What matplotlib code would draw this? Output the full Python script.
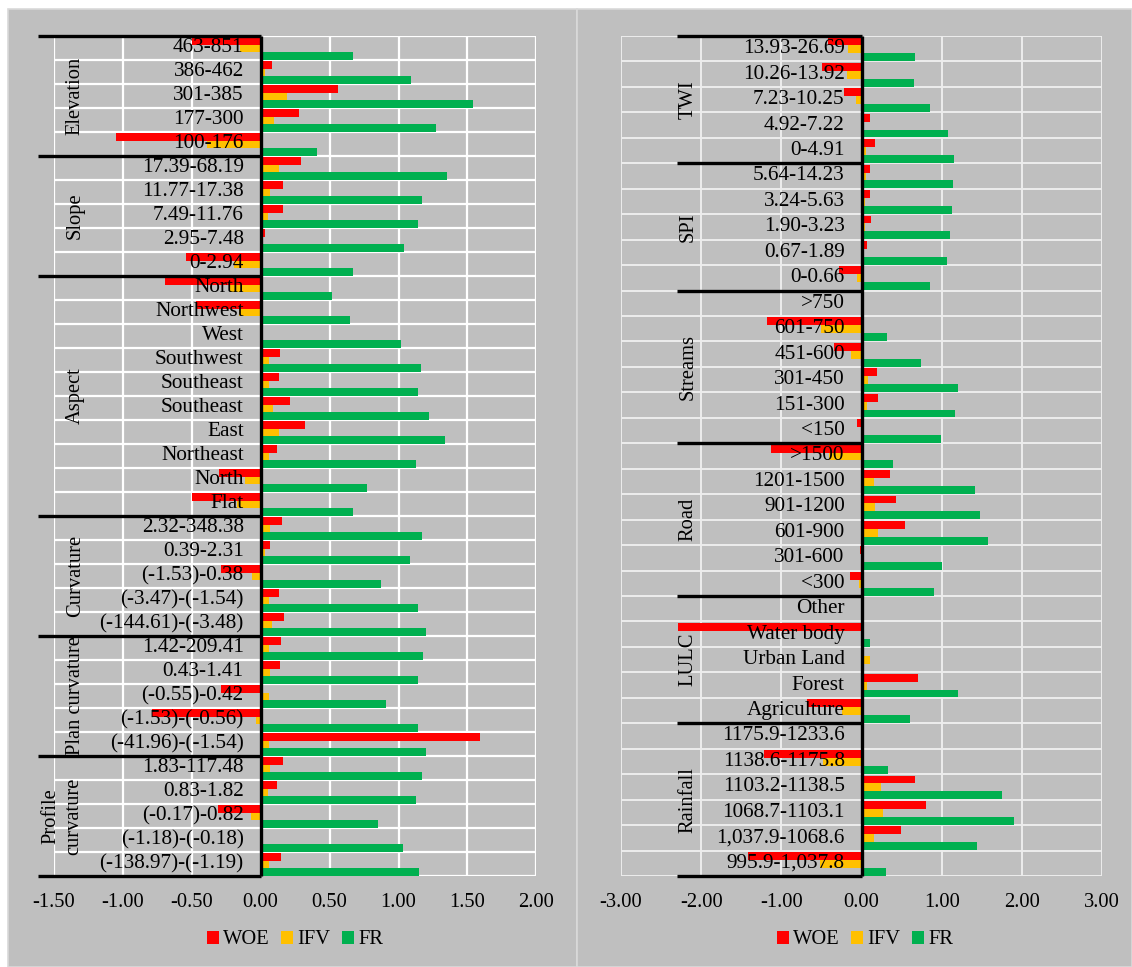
import matplotlib
matplotlib.use("Agg")
import matplotlib.pyplot as plt
from matplotlib.patches import Patch, Rectangle

plt.rcParams['font.family'] = ['Liberation Serif', 'DejaVu Serif']

# ---------------- left panel data ----------------
left_groups = ["Elevation", "Slope", "Aspect", "Curvature", "Plan curvature", "Profile\ncurvature"]
left_group_sizes = [5, 5, 10, 5, 5, 5]
left_classes = [
    "463-851", "386-462", "301-385", "177-300", "100-176",
    "17.39-68.19", "11.77-17.38", "7.49-11.76", "2.95-7.48", "0-2.94",
    "North", "Northwest", "West", "Southwest", "Southeast", "Southeast", "East", "Northeast", "North", "Flat",
    "2.32-348.38", "0.39-2.31", "(-1.53)-0.38", "(-3.47)-(-1.54)", "(-144.61)-(-3.48)",
    "1.42-209.41", "0.43-1.41", "(-0.55)-0.42", "(-1.53)-(-0.56)", "(-41.96)-(-1.54)",
    "1.83-117.48", "0.83-1.82", "(-0.17)-0.82", "(-1.18)-(-0.18)", "(-138.97)-(-1.19)",
]
left_woe = [
    -0.50, 0.08, 0.56, 0.28, -1.05,
    0.29, 0.16, 0.16, 0.035, -0.54,
    -0.69, -0.47, 0.0, 0.14, 0.13, 0.21, 0.32, 0.12, -0.30, -0.50,
    0.155, 0.07, -0.29, 0.13, 0.17,
    0.15, 0.14, -0.29, -0.79, 1.59,
    0.16, 0.12, -0.31, 0.01, 0.15,
]
left_ifv = [
    -0.15, 0.03, 0.19, 0.10, -0.39,
    0.13, 0.07, 0.055, 0.02, -0.19,
    -0.22, -0.16, 0.0, 0.06, 0.06, 0.09, 0.13, 0.06, -0.11, -0.17,
    0.07, 0.03, -0.06, 0.06, 0.08,
    0.06, 0.07, 0.06, -0.03, 0.06,
    0.07, 0.055, -0.07, 0.005, 0.06,
]
left_fr = [
    0.67, 1.09, 1.54, 1.27, 0.41,
    1.35, 1.17, 1.14, 1.04, 0.67,
    0.52, 0.65, 1.02, 1.16, 1.14, 1.22, 1.34, 1.13, 0.77, 0.67,
    1.17, 1.08, 0.87, 1.14, 1.20,
    1.18, 1.14, 0.91, 1.14, 1.20,
    1.17, 1.13, 0.85, 1.03, 1.15,
]
left_ticks = [-1.5, -1.0, -0.5, 0.0, 0.5, 1.0, 1.5, 2.0]

# ---------------- right panel data ----------------
right_groups = ["TWI", "SPI", "Streams", "Road", "LULC", "Rainfall"]
right_group_sizes = [5, 5, 6, 6, 5, 6]
right_classes = [
    "13.93-26.69", "10.26-13.92", "7.23-10.25", "4.92-7.22", "0-4.91",
    "5.64-14.23", "3.24-5.63", "1.90-3.23", "0.67-1.89", "0-0.66",
    ">750", "601-750", "451-600", "301-450", "151-300", "<150",
    ">1500", "1201-1500", "901-1200", "601-900", "301-600", "<300",
    "Other", "Water body", "Urban Land", "Forest", "Agriculture",
    "1175.9-1233.6", "1138.6-1175.8", "1103.2-1138.5", "1068.7-1103.1", "1,037.9-1068.6", "995.9-1,037.8",
]
right_woe = [
    -0.42, -0.49, -0.22, 0.10, 0.17,
    0.11, 0.11, 0.12, 0.07, -0.28,
    0.0, -1.18, -0.34, 0.19, 0.20, -0.05,
    -1.13, 0.36, 0.43, 0.54, -0.02, -0.14,
    0.0, -2.29, 0.0, 0.71, -0.68,
    0.0, -1.21, 0.67, 0.80, 0.49, -1.41,
]
right_ifv = [
    -0.17, -0.18, -0.07, 0.02, 0.05,
    0.05, 0.04, 0.04, 0.02, -0.06,
    0.0, -0.50, -0.13, 0.08, 0.07, 0.0,
    -0.40, 0.15, 0.17, 0.20, 0.0, -0.03,
    0.0, 0.0, 0.10, 0.07, -0.24,
    0.0, -0.48, 0.24, 0.27, 0.15, -0.52,
]
right_fr = [
    0.67, 0.65, 0.85, 1.08, 1.15,
    1.14, 1.13, 1.11, 1.07, 0.85,
    0.0, 0.32, 0.74, 1.20, 1.17, 0.99,
    0.39, 1.41, 1.48, 1.58, 1.00, 0.91,
    0.0, 0.10, 0.0, 1.20, 0.60,
    0.0, 0.33, 1.75, 1.90, 1.44, 0.30,
]
right_ticks = [-3.0, -2.0, -1.0, 0.0, 1.0, 2.0, 3.0]

series_names = ["WOE", "IFV", "FR"]
series_colors = ["#FF0000", "#FFC000", "#00B050"]
bg = "#BFBFBF"
FS = 14.8       # ticks, legend, group titles
FS_CAT = 15.3   # class labels

W, H = 1132, 967
fig = plt.figure(figsize=(W / 100, H / 100), dpi=100, facecolor="white")

# chart backgrounds (drawn beneath the axes)
fig.patches.append(Rectangle((8 / W, 0), (577 - 8) / W, 1 - 9 / H, transform=fig.transFigure,
                             facecolor=bg, edgecolor="#D9D9D9", lw=1.2, zorder=-10))
fig.patches.append(Rectangle((577 / W, 0), (W - 577) / W, 1 - 9 / H, transform=fig.transFigure,
                             facecolor=bg, edgecolor="#D9D9D9", lw=1.2, zorder=-10))


def draw_panel(rect, classes, woe, ifv, fr, groups, sizes, ticks, xlim,
               bracket_x, group_x, legend_x, grid_color, grid_lw):
    ax = fig.add_axes(rect)
    ax.set_zorder(1)
    ax.set_facecolor(bg)
    n = len(classes)
    ax.set_xlim(*xlim)
    ax.set_ylim(n, 0)

    # gridlines
    for t in ticks:
        ax.axvline(t, color=grid_color, lw=grid_lw, zorder=1)
    for k in range(n + 1):
        ax.axhline(k, color=grid_color, lw=grid_lw, zorder=1)

    h = 0.31
    offs = [0.21, 0.52, 0.83]
    for vals, off, c in zip([woe, ifv, fr], offs, series_colors):
        ax.barh([i + off for i in range(n)], vals, height=h, color=c, zorder=2)

    # class labels beside the zero axis
    span = xlim[1] - xlim[0]
    for i, lab in enumerate(classes):
        ax.text(-0.035 * span, i + 0.5, lab, ha="right", va="center",
                fontsize=FS_CAT, color="black", zorder=4)

    # zero axis and group brackets
    ax.plot([0, 0], [0, n], color="black", lw=2.4, zorder=5, clip_on=False,
            solid_capstyle="butt")
    start = 0
    bounds = [0]
    for s in sizes:
        start += s
        bounds.append(start)
    for b in bounds:
        ax.plot([bracket_x, 0], [b, b], color="black", lw=2.4, zorder=5, clip_on=False,
                solid_capstyle="butt")
    for g, a, b, gx in zip(groups, bounds[:-1], bounds[1:], group_x):
        ax.text(gx, (a + b) / 2, g, rotation=90, ha="center", va="center",
                fontsize=FS, multialignment="center", linespacing=1.3, zorder=4)

    ax.set_xticks(ticks)
    ax.set_xticklabels([f"{t:.2f}" for t in ticks], fontsize=FS)
    ax.tick_params(axis="x", length=0, pad=12)
    ax.set_yticks([])
    for sp in ax.spines.values():
        sp.set_visible(False)

    handles = [Patch(facecolor=c, edgecolor="none", label=nm)
               for nm, c in zip(series_names, series_colors)]
    fig.legend(handles=handles, loc="center", bbox_to_anchor=(legend_x, 1 - 940 / H),
               ncol=3, frameon=False, fontsize=FS, handlelength=0.6, handleheight=0.6,
               handletextpad=0.2, columnspacing=0.55)
    return ax


top_y, bot_y = 36, 876
draw_panel([53.8 / W, 1 - bot_y / H, (536.4 - 53.8) / W, (bot_y - top_y) / H],
           left_classes, left_woe, left_ifv, left_fr, left_groups, left_group_sizes,
           left_ticks, (-1.5, 2.0), bracket_x=-1.615,
           group_x=[-1.345, -1.345, -1.345, -1.345, -1.345, -1.44],
           legend_x=295 / W, grid_color="white", grid_lw=1.6)
draw_panel([621 / W, 1 - bot_y / H, (1102 - 621) / W, (bot_y - top_y) / H],
           right_classes, right_woe, right_ifv, right_fr, right_groups, right_group_sizes,
           right_ticks, (-3.0, 3.0), bracket_x=-2.3, group_x=[-2.16] * 6,
           legend_x=865 / W, grid_color="#EDEDED", grid_lw=1.4)

fig.savefig("out.png", dpi=100, facecolor="white")
